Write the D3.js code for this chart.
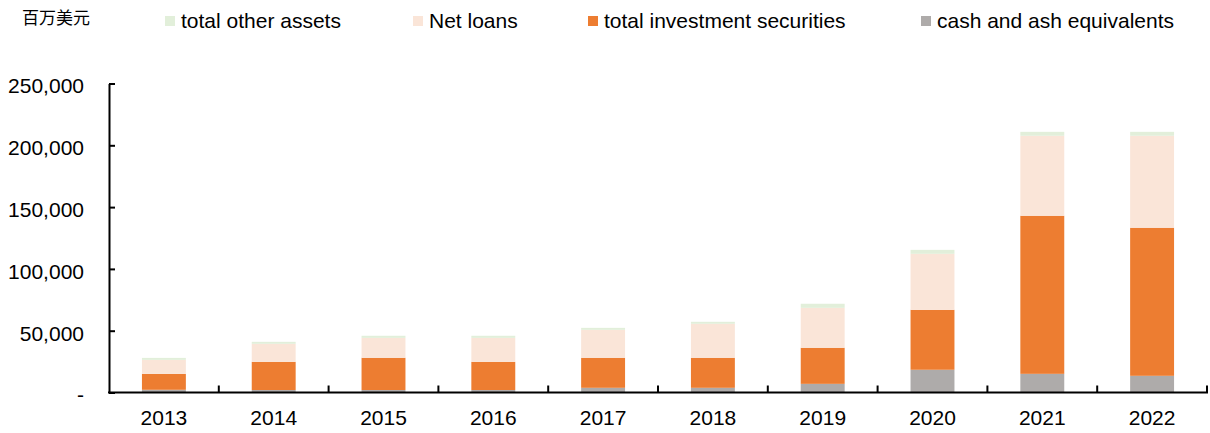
<!DOCTYPE html>
<html>
<head>
<meta charset="utf-8">
<script src="https://cdn.jsdelivr.net/npm/d3@7"></script>
<style>
  html, body { margin: 0; padding: 0; background: #fff; }
  svg { display: block; }
  text { font-family: "Liberation Sans", Arial, sans-serif; fill: #000; }
</style>
</head>
<body>
<svg id="chart" width="1210" height="433"></svg>
<script>
// Balance-sheet asset composition by year (USD millions)
const years = ['2013', '2014', '2015', '2016', '2017', '2018', '2019', '2020', '2021', '2022'];
const cashEquivalents      = [2200, 2000, 2000, 2000, 3800, 3800, 7000, 18400, 15100, 13500];
const investmentSecurities = [12900, 22800, 26100, 22800, 24300, 24300, 29200, 48500, 127900, 119800];
const netLoans             = [11300, 14600, 16100, 19400, 22600, 27500, 32300, 45300, 64700, 74400];
const otherAssets          = [1600, 1600, 1700, 1700, 1600, 1600, 3300, 3200, 3200, 3200];
const yTicks = [0, 50000, 100000, 150000, 200000, 250000];

const seriesKeys   = ['cash', 'invest', 'loans', 'other'];
const seriesNames  = {
  other: 'total other assets',
  loans: 'Net loans',
  invest: 'total investment securities',
  cash: 'cash and ash equivalents'
};
const seriesColors = { cash: '#AEABAA', invest: '#ED7D31', loans: '#FAE5D8', other: '#E2EFDA' };

const rows = years.map((yr, i) => ({
  year: yr,
  cash: cashEquivalents[i],
  invest: investmentSecurities[i],
  loans: netLoans[i],
  other: otherAssets[i]
}));

const svg = d3.select('#chart');
const plotLeft = 109, plotRight = 1207, plotBottom = 392.5, plotTop = 83.5;

const xCat = d3.scaleBand().domain(years).range([plotLeft, plotRight]).padding(0);
const xBar = d3.scaleBand().domain(years).range([plotLeft, plotRight]).paddingInner(0.6).paddingOuter(0.3);
const y = d3.scaleLinear().domain([0, 250000]).range([plotBottom, plotTop]);

const stacked = d3.stack().keys(seriesKeys)(rows);

// stacked bars
svg.append('g').selectAll('g')
  .data(stacked)
  .join('g')
  .attr('fill', s => seriesColors[s.key])
  .selectAll('rect')
  .data(s => s)
  .join('rect')
  .attr('x', d => xBar(d.data.year))
  .attr('width', xBar.bandwidth())
  .attr('y', d => y(d[1]))
  .attr('height', d => y(d[0]) - y(d[1]));

// y axis with inward ticks
const yAxis = d3.axisLeft(y)
  .tickValues(yTicks)
  .tickSizeInner(-6)
  .tickSizeOuter(0)
  .tickPadding(25)
  .tickFormat(d => d === 0 ? '-' : d3.format(',')(d));

const gy = svg.append('g').attr('transform', `translate(${plotLeft},0)`).call(yAxis);
gy.select('.domain').attr('stroke', '#000').attr('stroke-width', 2);
gy.selectAll('.tick line').attr('stroke', '#000').attr('stroke-width', 2);
gy.selectAll('.tick text')
  .attr('font-size', 21)
  .attr('dy', '0.45em')
  .attr('font-family', '"Liberation Sans", Arial, sans-serif')
  .attr('fill', '#000');

// x axis: labels centered in categories, ticks on category boundaries
const xAxis = d3.axisBottom(xCat).tickSize(0).tickPadding(18);
const gx = svg.append('g').attr('transform', `translate(0,${plotBottom})`).call(xAxis);
gx.select('.domain').remove();
gx.selectAll('.tick text')
  .attr('font-size', 21)
  .attr('font-family', '"Liberation Sans", Arial, sans-serif')
  .attr('fill', '#000');

const boundaries = years.map(yr => xCat(yr)).concat([xCat(years[years.length - 1]) + xCat.bandwidth()]);
svg.append('g').selectAll('line')
  .data(boundaries.slice(1))
  .join('line')
  .attr('x1', d => d).attr('x2', d => d)
  .attr('y1', plotBottom).attr('y2', plotBottom - 7)
  .attr('stroke', '#000').attr('stroke-width', 2);

svg.append('line')
  .attr('x1', plotLeft - 1).attr('x2', plotRight + 1)
  .attr('y1', plotBottom).attr('y2', plotBottom)
  .attr('stroke', '#000').attr('stroke-width', 2);

// unit label
svg.append('text')
  .attr('x', 22).attr('y', 24)
  .style('font-family', '"Noto Sans CJK SC", sans-serif')
  .attr('font-size', 17)
  .attr('fill', '#333')
  .text('百万美元');

// legend
const legendItems = [
  { key: 'other', x: 181 },
  { key: 'loans', x: 429 },
  { key: 'invest', x: 604 },
  { key: 'cash', x: 937 }
];
const lg = svg.append('g').selectAll('g').data(legendItems).join('g');
lg.append('rect')
  .attr('x', d => d.x - 16).attr('y', 16)
  .attr('width', 10).attr('height', 10)
  .attr('fill', d => seriesColors[d.key]);
lg.append('text')
  .attr('x', d => d.x).attr('y', 28)
  .attr('font-size', 21)
  .text(d => seriesNames[d.key]);
</script>
</body>
</html>
